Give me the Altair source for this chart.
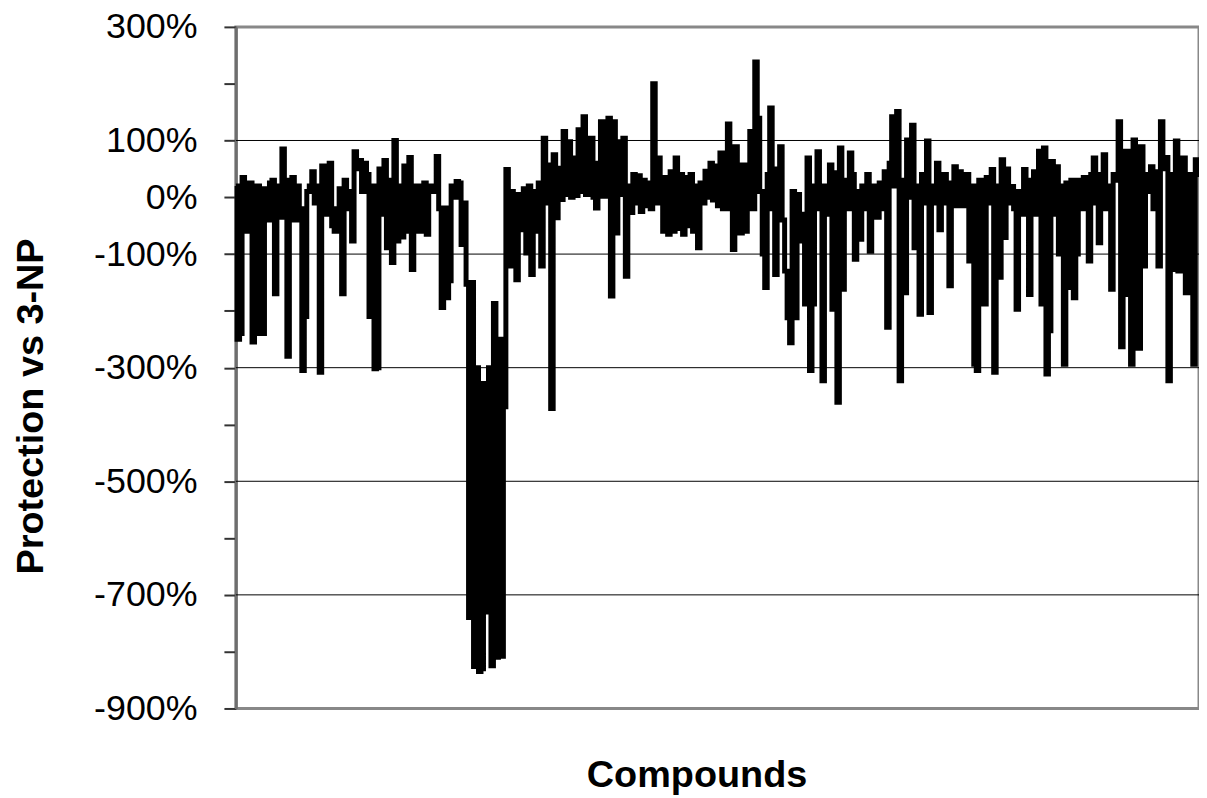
import altair as alt
import pandas as pd

# Protection vs 3-NP (%) for each compound, read left to right
seg1 = [20, -250, -240, 35, 10, -60, 25, -255, -240, 20,
        -20, -240, 15, -40, 25, 30, -170, 20, -35, 85,
        10, -280, 30, 35, -40, 20, -20, -305, -210, 10,
        20, 45, -10, 20, -308, 55, 10, -30, 60, -50,
        -60, -20, 15, -170, 30, 10, -20, -77, 80, 50,
        65, 10, 60, 40, -210, 20, -302, -300, 50, -30,
        65, -89, 30, -115, 100, -77, 20, -70, 55, -60,
        70, -127, 15, 20, -60, 20, 25, -65, 20, 15]
seg2 = [10, 72, -20, -194, -19, -177, -147, 20, 0, 28,
        25, -83, -10, -153, -740, -150, -826, -300, -835, -830,
        -328, -730, -300, -825, -187, -810, -250, -808, -369, 49,
        -121, 10, -110, -145, 5, -57, 15, -98, 20, -136,
        10, -60, 25, -121, 104, -10, 57, -372, 75, -36,
        51, -4, 116, 5, 98, 0, 69, 3, 119, 10,
        142, 5, 87, 104, 0, -19, 60, 133, 2, 98,
        139, -174, 133, -63, 98, 5, 104, -139]
seg3 = [20, -27, 40, -10, 38, -25, 30, -15, 25, -20,
        200, -10, 69, 10, -60, 35, -65, 45, -60, 69,
        -55, 40, -65, 35, -50, 40, -60, 20, -89, 25,
        -10, 46, 0, 60, -5, 55, -15, 78, -20, 40,
        129, -20, -92, 89, -30, -63, 57, -60, 50, 116,
        -20, 238, 139, 10, -100, -159, 40, 157, -20, -136,
        50, 89, -40, -130, -212, -256, 10, -212, 5, -30,
        -77, -188, 69, -305, -188, 20, 80]
seg4 = [-20, -323, 20, -30, 57, -197, 43, -361, 87, -162,
        30, -20, 78, 40, -109, 10, -74, 20, -20, 40,
        -95, 10, 20, -35, 25, -20, 45, -229, 60, 142,
        20, 151, -323, 30, -168, 101, 0, 127, -89, 20,
        -206, 40, -10, 99, -203, 20, -10, 60, -57, 30,
        40, -10, -156, 25, 54, -15, 45, -15, 30, 40,
        -112, 20, -294, -305, 30, -20, -188, 35, -10, 49,
        -308, 20, -141, 66, -71, 50, -10, 19]
seg5 = [-20, -197, 10, -30, 49, -20, -171, 30, 45, -30,
        81, -188, 87, -311, -235, 63, -30, 54, -100, 20,
        -294, 25, -159, 30, -177, -100, 30, -20, 35, -10,
        -112, 40, 69, -10, -80, 40, 75, -20, 20, -162,
        40, 30, 133, -263, 40, 81, -171, -294, 101, -20,
        -266, 89, -121, 40, 10, 54, -20, 45, -121, 133,
        50, 70, -323, -127, 40, 99, -130, 40, 69, -168,
        40, -10, -294, 66, 40]

values = seg1 + seg2 + seg3 + seg4 + seg5
y_ticks = list(range(-900, 301, 50))
y_labels = [300, 100, 0, -100, -300, -500, -700, -900]
grid_values = [100, -100, -300, -500, -700]

df = pd.DataFrame({"compound": list(range(len(values))), "protection": values})
grid_df = pd.DataFrame({"g": grid_values})

n = len(values)
label_list = ",".join(str(v) for v in y_labels)
label_expr = f"indexof([{label_list}], datum.value) >= 0 ? datum.value + '%' : ''"

y_scale = alt.Scale(domain=[-900, 300], nice=False, zero=False)

grid = alt.Chart(grid_df).mark_rule(color="#000000", strokeWidth=1).encode(
    y=alt.Y("g:Q", scale=y_scale)
)

line = alt.Chart(df).mark_line(
    color="#000000", strokeWidth=5, strokeJoin="miter", interpolate="step"
).encode(
    x=alt.X(
        "compound:Q",
        scale=alt.Scale(domain=[0, n - 1], nice=False, zero=False, padding=0),
        axis=alt.Axis(
            title="Compounds", labels=False, ticks=False, domain=False, grid=False,
            titleFont="Liberation Sans", titleFontSize=38, titleFontWeight="bold",
            titleColor="#000000", titleX=463, titleY=78, titleAlign="center",
            titleBaseline="alphabetic",
        ),
    ),
    y=alt.Y(
        "protection:Q",
        scale=y_scale,
        axis=alt.Axis(
            title="Protection vs 3-NP", values=y_ticks, labelExpr=label_expr,
            grid=False, tickSize=12, tickWidth=2, tickColor="#333333",
            domainColor="#6e6e6e", domainWidth=3,
            labelFont="Liberation Sans", labelFontSize=36, labelColor="#000000",
            labelPadding=27, labelFlush=False, labelOverlap=False,
            titleFont="Liberation Sans", titleFontSize=38, titleFontWeight="bold",
            titleColor="#000000", titleAngle=270, titleX=-194, titleY=381,
            titleAlign="center", titleBaseline="alphabetic",
        ),
    ),
)

chart = alt.layer(grid, line).properties(
    width=968,
    height=685,
    padding={"left": 229, "top": 17, "right": 0, "bottom": 87},
    autosize=alt.AutoSizeParams(type="none"),
    background="#ffffff",
).configure_view(stroke="#888888", strokeWidth=3)

chart.save("out.html", embed_options={"renderer": "svg", "actions": False})
